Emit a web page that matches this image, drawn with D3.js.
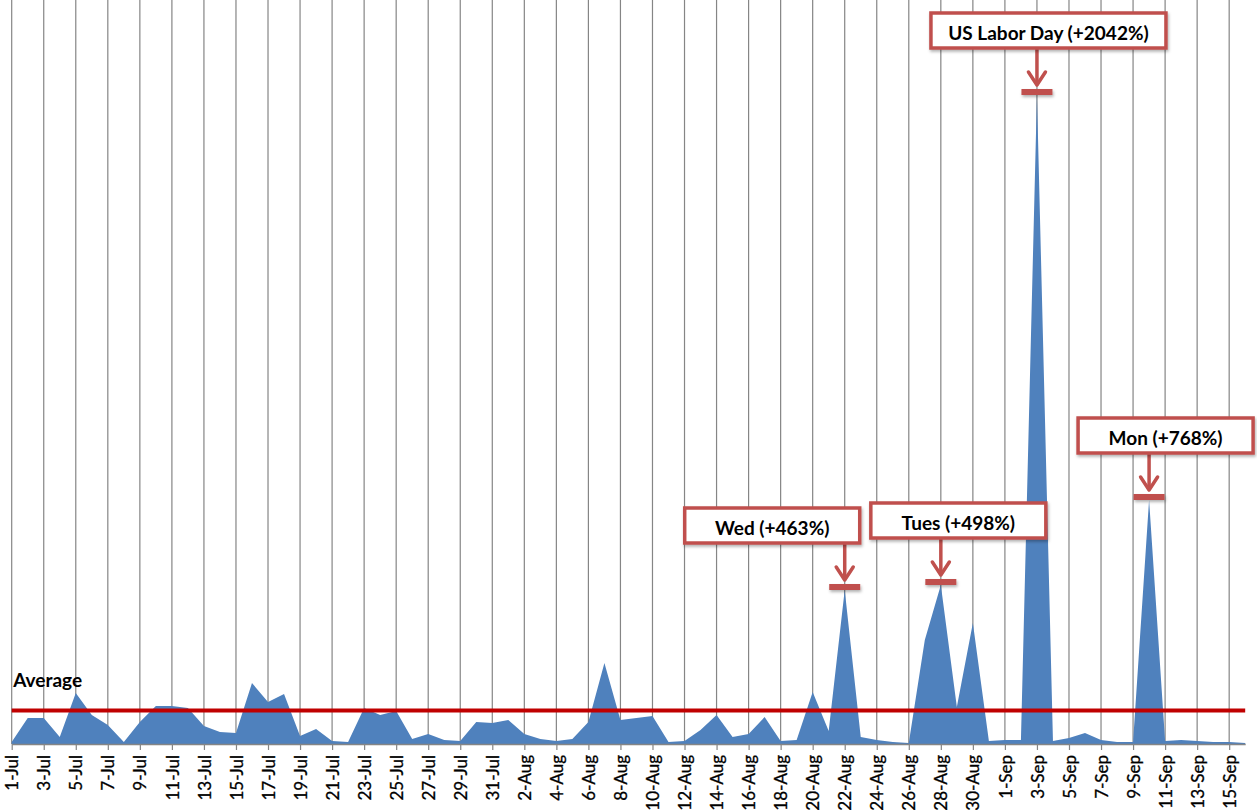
<!DOCTYPE html>
<html>
<head>
<meta charset="utf-8">
<script src="https://cdn.jsdelivr.net/npm/d3@7"></script>
<style>
  body { margin: 0; background: #fff; }
  svg { display: block; }
</style>
</head>
<body>
<div id="chart"></div>
<script>
// daily values, 1 Jul 2012 .. 16 Sep 2012
var julValues = [2, 26, 26, 7, 51, 29, 19, 2, 22, 38, 38, 36, 18, 12, 11, 61, 42, 50, 8, 15,
    3, 2, 36, 29, 33, 5, 10, 4, 3, 22, 21];
var augValues = [24, 10, 5, 3, 5, 22, 81, 24, 26, 28, 2, 3, 14, 29, 7, 10, 27, 3, 4, 52,
    13, 154, 7, 4, 2, 1, 104, 159, 37, 121, 3];
var sepValues = [4, 4, 649, 3, 6, 11, 4, 2, 2, 244, 3, 4, 3, 2, 2, 1];

// callouts (day index from 1-Jul)
var noteDays = [52, 58, 64, 71];
var noteLabels = ['Wed (+463%)', 'Tues (+498%)', 'US Labor Day (+2042%)', 'Mon (+768%)'];

var averageLabel = 'Average';

var values = julValues.concat(augValues, sepValues);
var startDate = Date.UTC(2012, 6, 1);
var data = values.map(function(v, i) {
    return { date: d3.utcDay.offset(new Date(startDate), i), value: v };
});

// svg container
var width = 1257;
var height = 810;
var margin = { top: 0, left: 11.7, right: 11.8, bottom: 66 };
var chartWidth = width - margin.left - margin.right;
var chartHeight = height - margin.top - margin.bottom;

var svg = d3.select('#chart').append('svg')
    .attr('width', width)
    .attr('height', height);

var defs = svg.append('defs');
var shadow = defs.append('filter')
    .attr('id', 'shadow')
    .attr('x', '-20%').attr('y', '-50%')
    .attr('width', '140%').attr('height', '250%');
shadow.append('feDropShadow')
    .attr('dx', 1).attr('dy', 2)
    .attr('stdDeviation', 1.5)
    .attr('flood-color', '#000')
    .attr('flood-opacity', 0.3);

var chartGroup = svg.append('g')
    .attr('transform', `translate(${margin.left}, ${margin.top})`);

var xScale = d3.scaleUtc()
    .domain(d3.extent(data, d => d.date))
    .range([0, chartWidth]);

var yScale = d3.scaleLinear()
    .domain([0, 744])
    .range([chartHeight, 0]);

var tickDates = data.filter((d, i) => i % 2 === 0).map(d => d.date);

// vertical gridlines
chartGroup.append('g')
    .selectAll('line')
    .data(tickDates)
    .enter()
    .append('line')
    .attr('x1', d => xScale(d))
    .attr('x2', d => xScale(d))
    .attr('y1', 0)
    .attr('y2', chartHeight)
    .attr('stroke', '#858585')
    .attr('stroke-width', 1.2);

// area
var area = d3.area()
    .x(d => xScale(d.date))
    .y0(chartHeight)
    .y1(d => yScale(d.value));

chartGroup.append('path')
    .datum(data)
    .attr('d', area)
    .attr('fill', '#4f81bd');

// x axis
var bottomAxis = d3.axisBottom(xScale)
    .tickValues(tickDates)
    .tickFormat(d3.utcFormat('%-d-%b'))
    .tickSize(6)
    .tickSizeOuter(0);

var xAxis = chartGroup.append('g')
    .attr('transform', `translate(0, ${chartHeight})`)
    .call(bottomAxis);

xAxis.select('.domain')
    .attr('stroke', '#858585')
    .attr('stroke-width', 1.5);
xAxis.selectAll('.tick line')
    .attr('stroke', '#858585')
    .attr('stroke-width', 1.2);
xAxis.selectAll('.tick text')
    .attr('transform', 'rotate(-90)')
    .attr('text-anchor', 'end')
    .attr('x', -11)
    .attr('y', 0)
    .attr('dy', '0.36em')
    .style('font-family', 'Lato, "Open Sans", sans-serif')
    .style('font-size', '17px')
    .style('fill', '#000')
    .style('stroke', '#000')
    .style('stroke-width', 0.3);

// average line
var avg = d3.mean(values);

chartGroup.append('line')
    .attr('x1', 0)
    .attr('x2', chartWidth)
    .attr('y1', yScale(avg))
    .attr('y2', yScale(avg))
    .attr('stroke', '#c00000')
    .attr('stroke-width', 4);

chartGroup.append('text')
    .attr('x', 1.5)
    .attr('y', yScale(avg) - 24)
    .style('font-family', 'Lato, "Open Sans", sans-serif')
    .style('font-weight', 'bold')
    .style('font-size', '19px')
    .text(averageLabel);

// callouts
var boxLeft = [-160, -70, -106, -71];
var boxWidth = [175, 175, 235, 175];
var noteColor = '#c0504d';

noteDays.forEach(function(day, i) {
    var d = data[day];
    var px = xScale(d.date);
    var barY = yScale(d.value) - 3;
    var boxBottom = barY - 44;
    var boxTop = boxBottom - 35;
    var tipY = barY - 7;

    var g = chartGroup.append('g');

    g.append('rect')
        .attr('x', px - 15.5)
        .attr('y', barY - 3)
        .attr('width', 31)
        .attr('height', 6)
        .attr('fill', noteColor)
        .attr('filter', 'url(#shadow)');

    g.append('line')
        .attr('x1', px)
        .attr('x2', px)
        .attr('y1', boxBottom)
        .attr('y2', tipY - 1)
        .attr('stroke', noteColor)
        .attr('stroke-width', 3.5);

    g.append('path')
        .attr('d', `M${px - 8.5},${tipY - 13} L${px},${tipY} L${px + 8.5},${tipY - 13}`)
        .attr('fill', 'none')
        .attr('stroke', noteColor)
        .attr('stroke-width', 3.5)
        .attr('stroke-linecap', 'round')
        .attr('stroke-linejoin', 'round');

    g.append('rect')
        .attr('x', px + boxLeft[i])
        .attr('y', boxTop)
        .attr('width', boxWidth[i])
        .attr('height', 35)
        .attr('fill', '#fff')
        .attr('stroke', noteColor)
        .attr('stroke-width', 3.5)
        .attr('filter', 'url(#shadow)');

    g.append('text')
        .attr('x', px + boxLeft[i] + boxWidth[i] / 2)
        .attr('y', boxTop + 17.5)
        .attr('dy', '0.5em')
        .attr('text-anchor', 'middle')
        .style('font-family', 'Lato, "Open Sans", sans-serif')
        .style('font-weight', 'bold')
        .style('font-size', '19px')
        .text(noteLabels[i]);
});
</script>
</body>
</html>
